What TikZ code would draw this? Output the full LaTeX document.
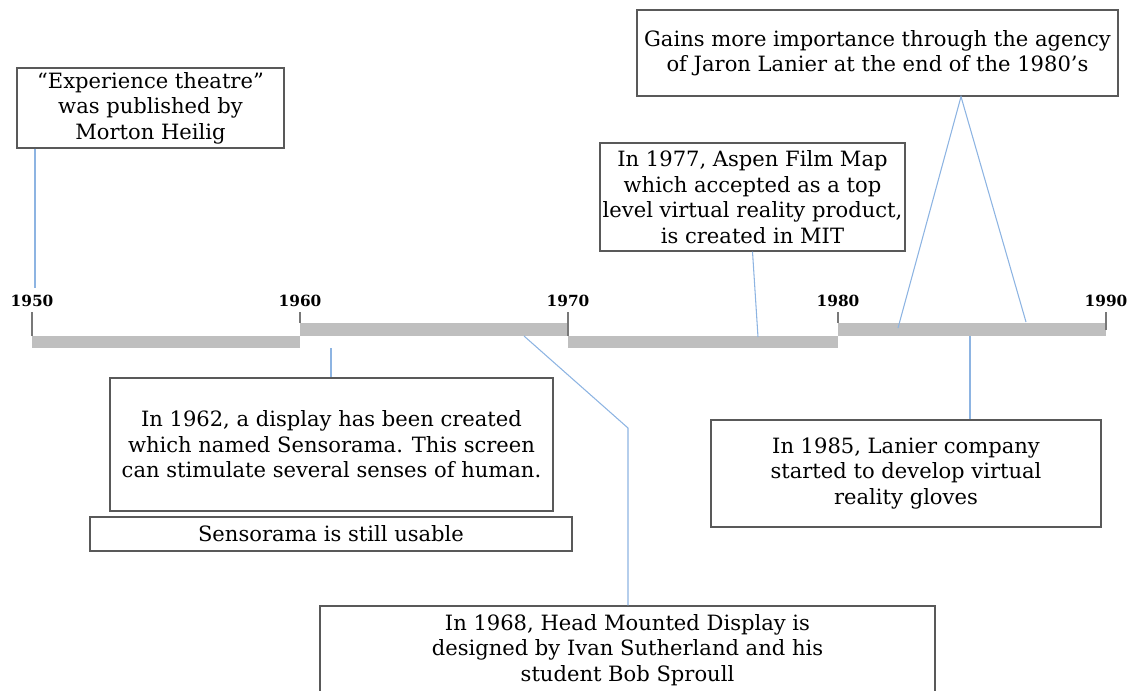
\documentclass[tikz,border=0pt]{standalone}
\usepackage{fontspec}
\setmainfont{DejaVu Serif}
\usetikzlibrary{calc}
\usetikzlibrary{positioning}

\definecolor{barGray}{RGB}{191,191,191}
\definecolor{tickGray}{RGB}{120,120,120}
\definecolor{boxGray}{RGB}{89,89,89}
\definecolor{linkBlue}{RGB}{141,180,226}

\tikzset{
  event/.style={draw=boxGray,line width=0.9pt,fill=white,align=center,inner sep=0pt,font=\fontsize{15.8}{19.2}\selectfont},
  year/.style={font=\fontsize{11.5}{13}\selectfont\bfseries,inner sep=0pt},
  link/.style={draw=linkBlue,line width=0.8pt},
  tickline/.style={draw=tickGray,line width=1pt}
}

\begin{document}
\begin{tikzpicture}[x=0.75pt,y=-0.75pt]
\useasboundingbox (0,0) rectangle (1136,690);
\clip (0,0) rectangle (1136,690);

% timeline bars
\fill[barGray] (32,336) rectangle (300,348);
\fill[barGray] (300,323) rectangle (568,336);
\fill[barGray] (568,336) rectangle (838,348);
\fill[barGray] (838,323) rectangle (1106,336);

\foreach \yr/\xx/\yy in {1950/32/336,1960/300/323,1970/568/336,1980/838/323,1990/1106/330}{
  \node[year] (y\yr) at (\xx,301) {\yr};
  \draw[tickline] (\xx,312) -- (\xx,\yy);
}

% events
\node[event,minimum width={267*0.75pt},minimum height={80*0.75pt}] (heilig) at (150.5,108) {“Experience theatre”\\was published by\\Morton Heilig};
\node[event,minimum width={443*0.75pt},minimum height={133*0.75pt}] (sens) at (331.5,444.5) {In 1962, a display has been created\\which named Sensorama. This screen\\can stimulate several senses of human.};
\node[event,minimum width={482*0.75pt},minimum height={34*0.75pt}] (usable) at (331,534) {Sensorama is still usable};
\node[event,minimum width={615*0.75pt},minimum height={88*0.75pt}] (hmd) at (627.5,650) {In 1968, Head Mounted Display is\\designed by Ivan Sutherland and his\\student Bob Sproull};
\node[event,minimum width={305*0.75pt},minimum height={108*0.75pt}] (aspen) at (752.5,197) {In 1977, Aspen Film Map\\which accepted as a top\\level virtual reality product,\\is created in MIT};
\node[event,minimum width={481*0.75pt},minimum height={86*0.75pt}] (lanier) at (877.5,53) {Gains more importance through the agency\\of Jaron Lanier at the end of the 1980’s};
\node[event,minimum width={390*0.75pt},minimum height={107*0.75pt}] (gloves) at (906,473.5) {In 1985, Lanier company\\started to develop virtual\\reality gloves};

% connectors
\coordinate (heiligEnd) at (35,288);
\draw[link] (heilig.south -| heiligEnd) -- (heiligEnd);
\coordinate (sensBar) at (331,348);
\draw[link] (sensBar) -- (sensBar |- sens.north);
\coordinate (hmdBar) at (524,336);
\coordinate (hmdBend) at (628,428);
\draw[link] (hmdBar) -- (hmdBend) -- (hmdBend |- hmd.north);
\coordinate (aspenBar) at (758,337);
\draw[link] (aspen.south) -- (aspenBar);
\coordinate (lanierTop) at (961,96);
\coordinate (lanierL) at (898,328);
\coordinate (lanierR) at (1026,322);
\draw[link] (lanierL) -- (lanierTop |- lanier.south) -- (lanierR);
\coordinate (glovesBar) at (970,336);
\draw[link] (glovesBar) -- (glovesBar |- gloves.north);
\end{tikzpicture}
\end{document}
